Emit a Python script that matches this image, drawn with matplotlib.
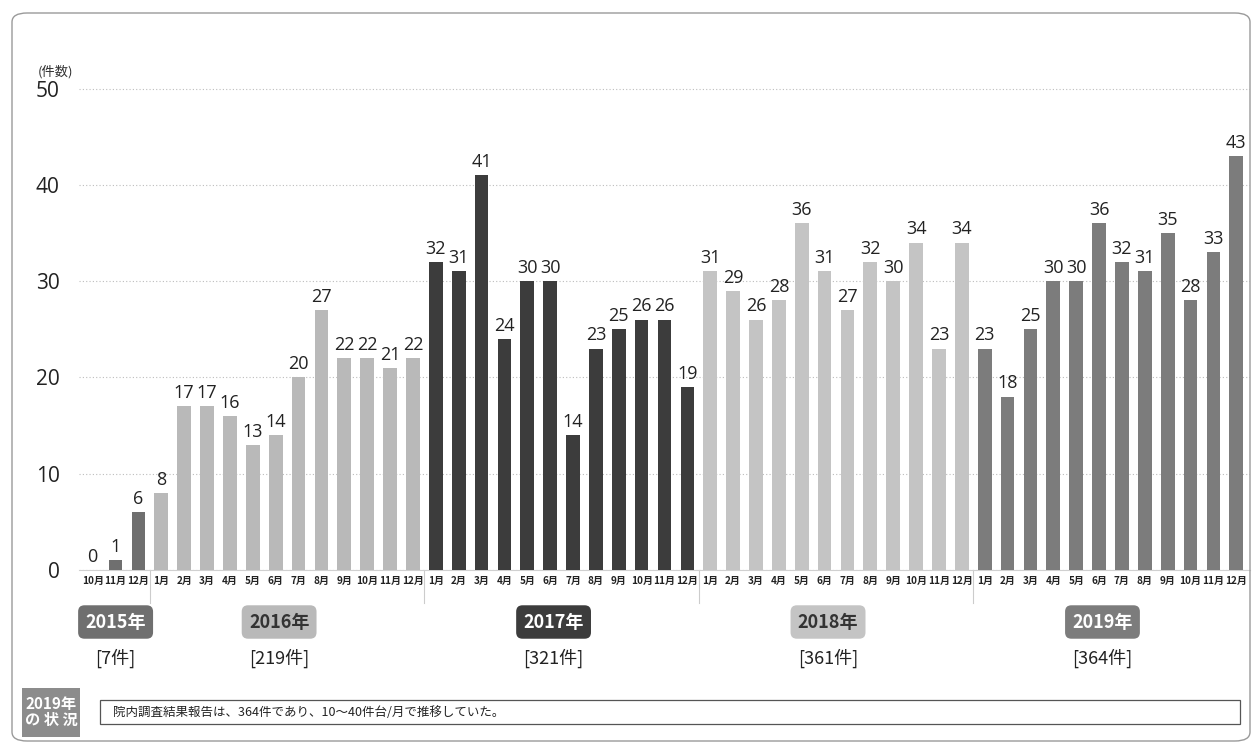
import matplotlib
matplotlib.use("Agg")
import matplotlib.pyplot as plt
from matplotlib.patches import FancyBboxPatch, Rectangle
from matplotlib.transforms import blended_transform_factory

plt.rcParams['font.family'] = ['Noto Sans CJK JP', 'DejaVu Sans']

years = ["2015年", "2016年", "2017年", "2018年", "2019年"]
year_totals = ["[7件]", "[219件]", "[321件]", "[361件]", "[364件]"]
months_2015 = ["10月", "11月", "12月"]
months_full = ["1月", "2月", "3月", "4月", "5月", "6月", "7月", "8月", "9月", "10月", "11月", "12月"]
v2015 = [0, 1, 6]
v2016 = [8, 17, 17, 16, 13, 14, 20, 27, 22, 22, 21, 22]
v2017 = [32, 31, 41, 24, 30, 30, 14, 23, 25, 26, 26, 19]
v2018 = [31, 29, 26, 28, 36, 31, 27, 32, 30, 34, 23, 34]
v2019 = [23, 18, 25, 30, 30, 36, 32, 31, 35, 28, 33, 43]
yticks = [0, 10, 20, 30, 40, 50]
note_title = "2019年\nの 状 況"
note_text = "院内調査結果報告は、364件であり、10～40件台/月で推移していた。"

series = [v2015, v2016, v2017, v2018, v2019]
month_sets = [months_2015, months_full, months_full, months_full, months_full]
bar_colors = ["#6f6f6f", "#b9b9b9", "#3c3c3c", "#c4c4c4", "#7c7c7c"]
badge_text_colors = ["white", "#333333", "white", "#333333", "white"]

fig = plt.figure(figsize=(12.57, 7.53), dpi=100)
fig.patch.set_facecolor("white")

frame = FancyBboxPatch((12 / 1257, 12 / 753), 1238 / 1257, 728 / 753,
                       boxstyle="round,pad=0,rounding_size=0.012",
                       transform=fig.transFigure, fill=False,
                       edgecolor="#9a9a9a", linewidth=1.0)
fig.patches.append(frame)

ax = fig.add_axes([79 / 1257, 183 / 753, (1250 - 79) / 1257, 0.665])

num_font = ['Open Sans', 'DejaVu Sans']
x = 0
labels = []
starts = []
for vals, months, col in zip(series, month_sets, bar_colors):
    xs = list(range(x, x + len(vals)))
    starts.append(x)
    bars = ax.bar(xs, vals, width=0.6, color=col, zorder=3)
    ax.bar_label(bars, labels=[str(v) for v in vals], padding=3,
                 fontsize=13, color="#222222", family=num_font)
    labels += months
    x += len(vals)
n = x

ax.set_xlim(-0.6, n - 0.4)
ax.set_ylim(0, 52)
ax.set_yticks(yticks)
ax.set_yticklabels([str(t) for t in yticks], fontsize=15, color="#222222", family=num_font)
ax.tick_params(axis='y', length=0, pad=14)
ax.set_xticks(range(n))
ax.set_xticklabels(labels, fontsize=7.2, fontweight='bold', color="#222222")
ax.tick_params(axis='x', length=0, pad=4)
for s in ["top", "right", "left"]:
    ax.spines[s].set_visible(False)
ax.spines["bottom"].set_color("#d0d0d0")
ax.spines["bottom"].set_linewidth(0.8)
ax.yaxis.grid(True, linestyle=(0, (1, 2)), color="#bdbdbd", linewidth=0.8, zorder=0)

fig.text(38 / 1257, 1 - 72 / 753, "(件数)", fontsize=9.5, color="#333333", va="center")

trans = blended_transform_factory(ax.transData, fig.transFigure)
sep_trans = blended_transform_factory(ax.transData, ax.transAxes)
for s in starts[1:]:
    ax.plot([s - 0.5, s - 0.5], [0, -0.065], transform=sep_trans,
            color="#cccccc", linewidth=0.8, clip_on=False)

for i, (yr, tot, st, vals, col, tc) in enumerate(zip(years, year_totals, starts, series, bar_colors, badge_text_colors)):
    cx = st + (len(vals) - 1) / 2 - (0 if i == 0 else 0.35)
    fig.text(cx, 1 - 622 / 753, yr, transform=trans, ha="center", va="center",
             fontsize=13, fontweight="bold", color=tc,
             bbox=dict(boxstyle="round,pad=0.4,rounding_size=0.35", facecolor=col, edgecolor="none"))
    fig.text(cx, 1 - 658 / 753, tot, transform=trans, ha="center", va="center",
             fontsize=13, color="#222222")

fig.patches.append(Rectangle((22 / 1257, 1 - 737 / 753), 58 / 1257, 49 / 753,
                             transform=fig.transFigure, facecolor="#8c8c8c", edgecolor="none"))
fig.text(51 / 1257, 1 - 712 / 753, note_title, ha="center", va="center", fontsize=11,
         fontweight="bold", color="white", linespacing=1.0)
fig.patches.append(Rectangle((100 / 1257, 1 - 724 / 753), 1140 / 1257, 24 / 753,
                             transform=fig.transFigure, facecolor="white", edgecolor="#555555",
                             linewidth=0.9))
fig.text(113 / 1257, 1 - 712 / 753, note_text, ha="left", va="center", fontsize=9, color="#222222")

fig.savefig("out.png", dpi=100)
